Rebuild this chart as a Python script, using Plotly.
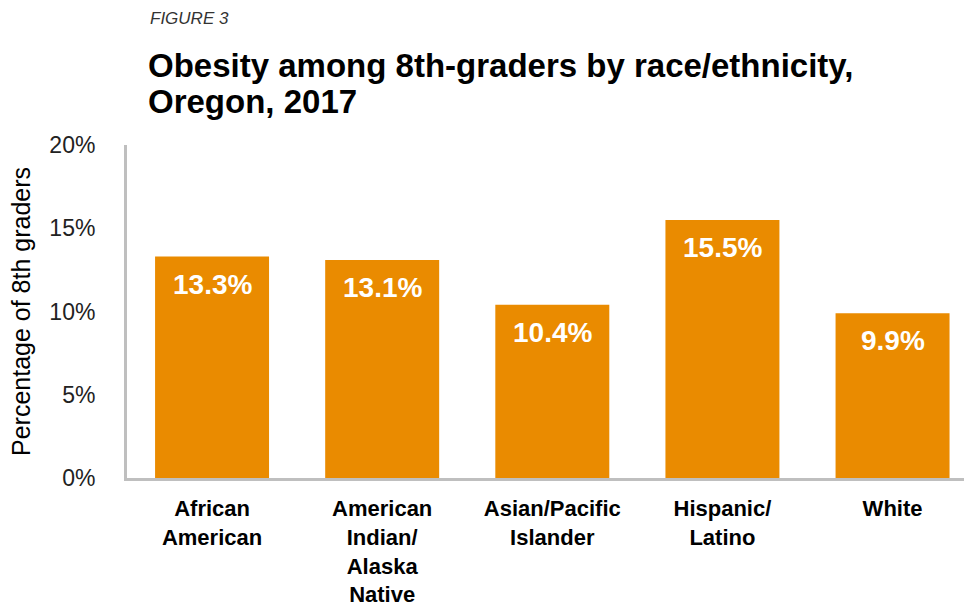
import plotly.graph_objects as go

# Obesity among Oregon 8th-graders by race/ethnicity, 2017
categories = [
    "African<br>American",
    "American<br>Indian/<br>Alaska<br>Native",
    "Asian/Pacific<br>Islander",
    "Hispanic/<br>Latino",
    "White",
]
obesity_pct = [13.3, 13.1, 10.4, 15.5, 9.9]
y_ticks = [0, 5, 10, 15, 20]
title_lines = ["Obesity among 8th-graders by race/ethnicity,", "Oregon, 2017"]

FONT = "Arial, Liberation Sans, sans-serif"
BAR_COLOR = "#EA8B00"
AXIS_COLOR = "#BFBFBF"

W, H = 964, 609
M_L, M_R, M_T, M_B = 127, 0, 145, 131
plot_w = W - M_L - M_R
plot_h = H - M_T - M_B


def px_to_paper_x(px):
    return (px - M_L) / plot_w


def px_to_paper_y(py):
    return (H - M_B - py) / plot_h


fig = go.Figure()
fig.add_trace(go.Bar(
    x=categories,
    y=obesity_pct,
    marker=dict(color=BAR_COLOR, line=dict(width=0)),
    hoverinfo="skip",
))

# value labels placed just inside the top of each bar
for cat, val in zip(categories, obesity_pct):
    fig.add_annotation(
        x=cat, y=val, xref="x", yref="y",
        text=f"{val:.1f}%",
        showarrow=False,
        yanchor="top", yshift=-10,
        font=dict(family=FONT, size=28, color="white", weight="bold"),
    )

# figure tag and two-line heading
fig.add_annotation(
    xref="paper", yref="paper",
    x=px_to_paper_x(148), y=px_to_paper_y(18),
    xanchor="left", yanchor="middle",
    text="<i>FIGURE 3</i>", showarrow=False,
    font=dict(family=FONT, size=17, color="#333333"),
)
for line, cy in zip(title_lines, [65, 102]):
    fig.add_annotation(
        xref="paper", yref="paper",
        x=px_to_paper_x(146), y=px_to_paper_y(cy),
        xanchor="left", yanchor="middle",
        text=f"<b>{line}</b>", showarrow=False,
        font=dict(family=FONT, size=33, color="black"),
    )

fig.update_layout(
    width=W, height=H,
    margin=dict(l=M_L, r=M_R, t=M_T, b=M_B, autoexpand=False),
    paper_bgcolor="white", plot_bgcolor="white",
    showlegend=False,
    bargap=0.33,
    xaxis=dict(
        range=[-0.5, 4.42],
        showline=True, linecolor=AXIS_COLOR, linewidth=3,
        showgrid=False, ticks="", zeroline=False,
        tickfont=dict(family=FONT, size=22, color="black", weight="bold"),
        ticklabelstandoff=9,
        fixedrange=True,
    ),
    yaxis=dict(
        range=[0, 20],
        tickvals=y_ticks,
        ticktext=[f"{t}%" for t in y_ticks],
        showline=True, linecolor=AXIS_COLOR, linewidth=3,
        showgrid=False, ticks="", zeroline=False,
        tickfont=dict(family=FONT, size=23, color="#222222"),
        ticklabelstandoff=24,
        title=dict(text="Percentage of 8th graders", standoff=12,
                   font=dict(family=FONT, size=25, color="black")),
        fixedrange=True,
    ),
)

fig.write_html("out.html")
